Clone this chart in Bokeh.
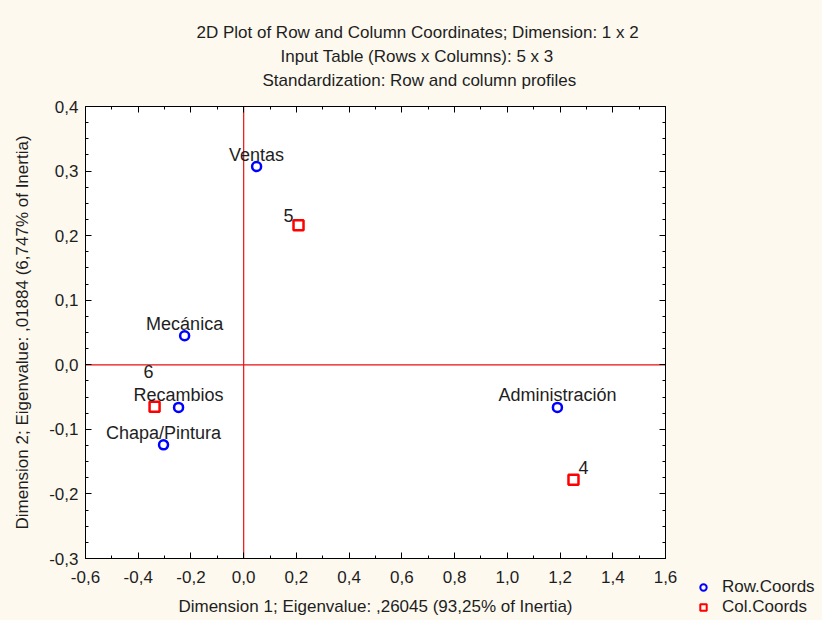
import numpy as np
from bokeh.plotting import figure
from bokeh.layouts import row
from bokeh.models import (ColumnDataSource, FixedTicker, CustomJSTickFormatter, LinearAxis,
                          Span, Title, Legend, LegendItem, Range1d)
from bokeh.core.properties import value
from bokeh.embed import file_html
from bokeh.resources import INLINE

# ---------------- data ----------------
title_lines = [
    "2D Plot of Row and Column Coordinates; Dimension:  1 x 2",
    "Input Table (Rows x Columns): 5 x 3",
    "Standardization: Row and column profiles",
]
x_axis_title = "Dimension 1; Eigenvalue: ,26045 (93,25% of Inertia)"
y_axis_title = "Dimension 2; Eigenvalue: ,01884 (6,747% of Inertia)"

row_labels = ["Administración", "Mecánica", "Chapa/Pintura", "Recambios", "Ventas"]
row_dim1 = [1.190, -0.224, -0.304, -0.247, 0.049]
row_dim2 = [-0.066, 0.045, -0.124, -0.066, 0.307]

col_labels = ["4", "5", "6"]
col_dim1 = [1.251, 0.208, -0.338]
col_dim2 = [-0.178, 0.216, -0.065]

x_ticks = [-0.6, -0.4, -0.2, 0.0, 0.2, 0.4, 0.6, 0.8, 1.0, 1.2, 1.4, 1.6]
x_tick_labels = ["-0,6", "-0,4", "-0,2", "0,0", "0,2", "0,4", "0,6", "0,8", "1,0", "1,2", "1,4", "1,6"]
y_ticks = [-0.3, -0.2, -0.1, 0.0, 0.1, 0.2, 0.3, 0.4]
y_tick_labels = ["-0,3", "-0,2", "-0,1", "0,0", "0,1", "0,2", "0,3", "0,4"]

legend_labels = ["Row.Coords", "Col.Coords"]

# ---------------- styles ----------------
FONT = "Liberation Sans"
TXT = "#1e1e1e"
BG = "#FDF9EF"
ROW_COLOR = "#0000FF"
COL_COLOR = "#FF0000"
row_label_dx = [0, 0, 0, 0, 0]
row_label_dy = [-12, -12, -12, -12, -12]
col_label_dx = [10, -10, -6]
col_label_dy = [-12, -10, -35]
title_offsets = [111, 195, 177]   # left offsets (px) that centre each line near x=420

p = figure(width=680, height=620, output_backend="svg", toolbar_location=None,
           x_range=Range1d(-0.6, 1.6), y_range=Range1d(-0.3, 0.4),
           x_axis_type=None, y_axis_type=None, title=None,
           min_border_left=85, min_border_right=15, min_border_top=106, min_border_bottom=62)
p.border_fill_color = BG
p.background_fill_color = "white"
p.outline_line_color = "black"
p.outline_line_width = 1
p.frame_align = False

xt = FixedTicker(ticks=x_ticks, minor_ticks=[float(v) for v in np.round(np.arange(-0.6, 1.6001, 0.1), 3)])
yt = FixedTicker(ticks=y_ticks, minor_ticks=[float(v) for v in np.round(np.arange(-0.3, 0.4001, 0.025), 4)])
fmt_code = "const i = tv.findIndex(t => Math.abs(t - tick) < 1e-9); return i >= 0 ? tl[i] : '';"
xf = CustomJSTickFormatter(args=dict(tv=x_ticks, tl=x_tick_labels), code=fmt_code)
yf = CustomJSTickFormatter(args=dict(tv=y_ticks, tl=y_tick_labels), code=fmt_code)
blank = CustomJSTickFormatter(code="return '';")


def style_axis(ax, show_labels):
    ax.axis_line_color = "black"
    ax.major_tick_in = 6
    ax.major_tick_out = 0
    ax.minor_tick_in = 3
    ax.minor_tick_out = 0
    ax.major_tick_line_color = "black"
    ax.minor_tick_line_color = "black"
    if show_labels:
        ax.major_label_text_font = FONT
        ax.major_label_text_font_size = "17px"
        ax.major_label_text_color = TXT
        ax.axis_label_text_font = FONT
        ax.axis_label_text_font_size = "17px"
        ax.axis_label_text_font_style = "normal"
        ax.axis_label_text_color = TXT
    else:
        ax.major_label_standoff = 0


xb = LinearAxis(ticker=xt, formatter=xf, axis_label=x_axis_title)
style_axis(xb, True)
xb.major_label_standoff = 12
xb.axis_label_standoff = 11
p.add_layout(xb, "below")

yl = LinearAxis(ticker=yt, formatter=yf, axis_label=y_axis_title)
style_axis(yl, True)
yl.major_label_standoff = 7
yl.axis_label_standoff = 14
p.add_layout(yl, "left")

xa = LinearAxis(ticker=xt, formatter=blank)
style_axis(xa, False)
p.add_layout(xa, "above")
yr = LinearAxis(ticker=yt, formatter=blank)
style_axis(yr, False)
p.add_layout(yr, "right")

# invisible spacer between the frame and the title lines (one background-coloured tick at the corner)
spacer = LinearAxis(ticker=FixedTicker(ticks=[x_ticks[0]], minor_ticks=[]), formatter=blank,
                    axis_line_color=None, major_tick_in=0, major_tick_out=15,
                    minor_tick_in=0, minor_tick_out=0,
                    major_tick_line_color=BG, minor_tick_line_color=None, major_label_standoff=0)
p.add_layout(spacer, "above")

p.xgrid.ticker = xt
p.ygrid.ticker = yt
p.xgrid.grid_line_color = "#DADADA"
p.ygrid.grid_line_color = "#DADADA"

for dim in ("height", "width"):
    p.add_layout(Span(location=0, dimension=dim, line_color="#E81010", line_width=1.2, level="underlay"))

row_src = ColumnDataSource(dict(x=row_dim1, y=row_dim2, label=row_labels, dx=row_label_dx, dy=row_label_dy))
col_src = ColumnDataSource(dict(x=col_dim1, y=col_dim2, label=col_labels, dx=col_label_dx, dy=col_label_dy))

p.scatter("x", "y", source=row_src, marker="circle", size=9, fill_color=None,
          line_color=ROW_COLOR, line_width=2.5)
p.scatter("x", "y", source=col_src, marker="square", size=10, fill_color=None,
          line_color=COL_COLOR, line_width=2.5)

p.text("x", "y", text="label", source=row_src, x_offset="dx", y_offset="dy",
       text_align="center", text_baseline="alphabetic", text_font=value(FONT),
       text_font_size="18px", text_color=TXT)
p.text("x", "y", text="label", source=col_src, x_offset="dx", y_offset="dy",
       text_align="center", text_baseline="alphabetic", text_font=value(FONT),
       text_font_size="18px", text_color=TXT)

# title lines: added nearest-to-frame first
for line, off in reversed(list(zip(title_lines, title_offsets))):
    p.add_layout(Title(text=line, align="left", offset=off, standoff=3,
                       text_font=FONT, text_font_size="17px", text_font_style="normal",
                       text_color=TXT), "above")

# ---------------- legend strip (right) ----------------
q = figure(width=142, height=620, output_backend="svg", toolbar_location=None,
           x_range=Range1d(10, 11), y_range=Range1d(10, 11),
           x_axis_type=None, y_axis_type=None, title=None,
           min_border_left=0, min_border_right=0, min_border_top=0, min_border_bottom=0)
q.frame_align = False
q.border_fill_color = BG
q.background_fill_color = BG
q.outline_line_color = None
q.xgrid.visible = False
q.ygrid.visible = False
# same sources as the chart; the ranges keep the points themselves out of view
lr_row = q.scatter("x", "y", source=row_src, marker="circle", size=8, fill_color=None,
                   line_color=ROW_COLOR, line_width=2)
lr_col = q.scatter("x", "y", source=col_src, marker="square", size=8, fill_color=None,
                   line_color=COL_COLOR, line_width=2)
legend = Legend(items=[LegendItem(label=legend_labels[0], renderers=[lr_row]),
                       LegendItem(label=legend_labels[1], renderers=[lr_col])],
                location=(15, 3), orientation="vertical",
                background_fill_alpha=0, border_line_color=None, padding=0, margin=0,
                spacing=0, glyph_width=16, glyph_height=18, label_height=18,
                label_standoff=11, label_text_font=FONT, label_text_font_size="17px",
                label_text_color=TXT)
q.add_layout(legend)

layout = row(p, q, spacing=0, styles={"background-color": BG})
open("out.html", "w").write(file_html(layout, INLINE))
